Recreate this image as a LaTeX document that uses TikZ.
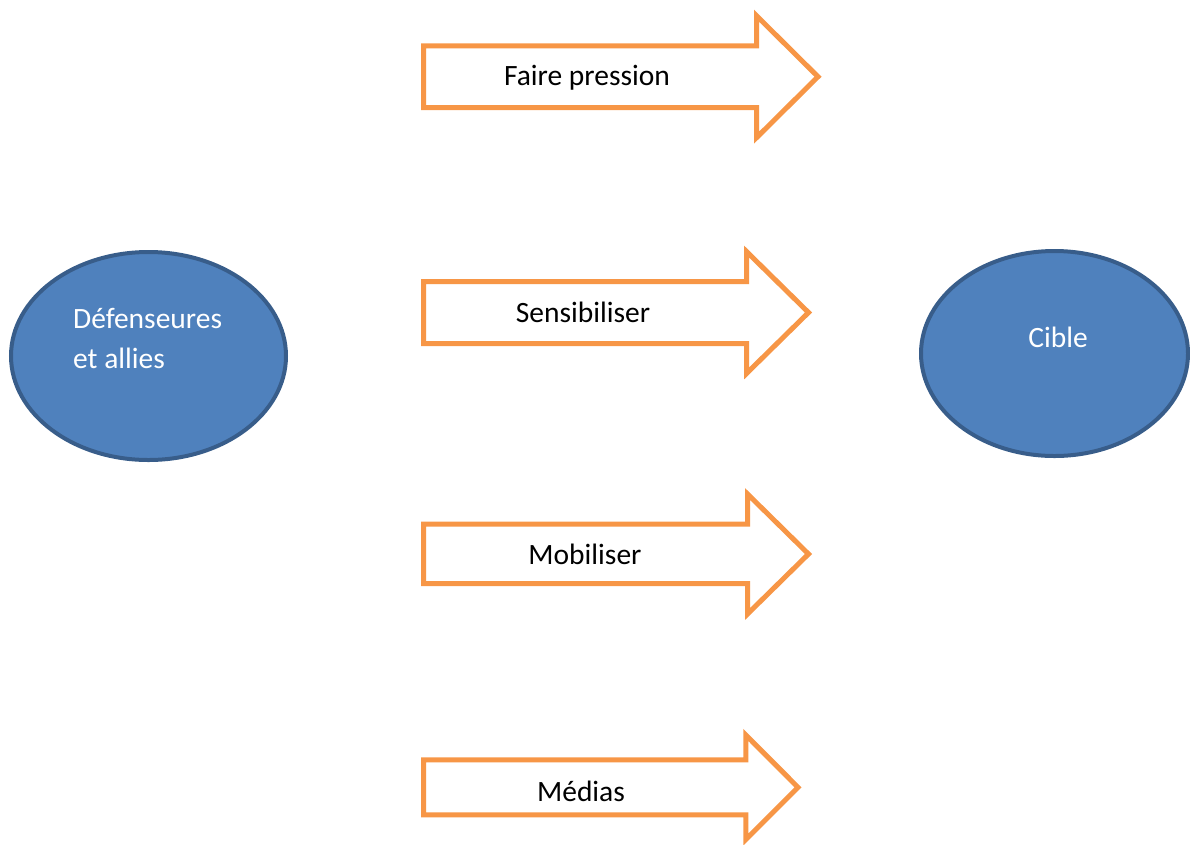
\documentclass[tikz,border=0pt]{standalone}
\usepackage{fontspec}
\setmainfont{Carlito}
\usetikzlibrary{shapes.geometric, positioning}
\definecolor{actorange}{HTML}{F79646}
\definecolor{actblue}{HTML}{4F81BD}
\definecolor{actborder}{HTML}{385D8A}

\begin{document}
\begin{tikzpicture}[
    x=1pt, y=-1pt,
    party/.style={
        ellipse,
        draw=actborder,
        fill=actblue,
        line width=4pt,
        inner sep=0pt
    },
    partytext/.style={
        text=white,
        align=left,
        anchor=base west,
        inner sep=0pt,
        font=\fontsize{29.5}{40}\selectfont
    },
    action/.style={
        draw=actorange,
        fill=white,
        line width=5pt,
        miter limit=10
    },
    actiontext/.style={
        anchor=base,
        inner sep=0pt,
        font=\fontsize{29.5}{36}\selectfont
    }
]
\useasboundingbox (0,0) rectangle (1190,844);

% Left and right ellipses
\node[party, minimum width=275pt, minimum height=208pt] (allies) at (148.5,356) {};
\node[party, minimum width=267pt, minimum height=205pt] (cible) at (1054.5,353.5) {};
\node[partytext] (alliestext) at (73,368) {Défenseures\\et allies};
\node[partytext, anchor=base] (cibletext) at (1058,347) {Cible};

% Block arrows
\draw[action] (423.5,45.8) -- (756.5,45.8) -- (756.5,15.7) -- (818,76.7)
    -- (756.5,137.7) -- (756.5,107.5) -- (423.5,107.5) -- cycle;
\draw[action] (423.5,281.5) -- (746.5,281.5) -- (746.5,251.5) -- (808.5,312.5)
    -- (746.5,373.5) -- (746.5,343.5) -- (423.5,343.5) -- cycle;
\draw[action] (423.5,524) -- (747.5,524) -- (747.5,494) -- (808.5,554)
    -- (747.5,614) -- (747.5,583.5) -- (423.5,583.5) -- cycle;
\draw[action] (423.5,759.8) -- (745.8,759.8) -- (745.8,735) -- (798,787.3)
    -- (745.8,839.6) -- (745.8,814.8) -- (423.5,814.8) -- cycle;

% Arrow labels
\node[actiontext] (pression) at (587,85) {Faire pression};
\node[actiontext] (sensib) at (583,322) {Sensibiliser};
\node[actiontext] (mobil) at (585,564) {Mobiliser};
\node[actiontext] (medias) at (581,801) {Médias};

\end{tikzpicture}
\end{document}
